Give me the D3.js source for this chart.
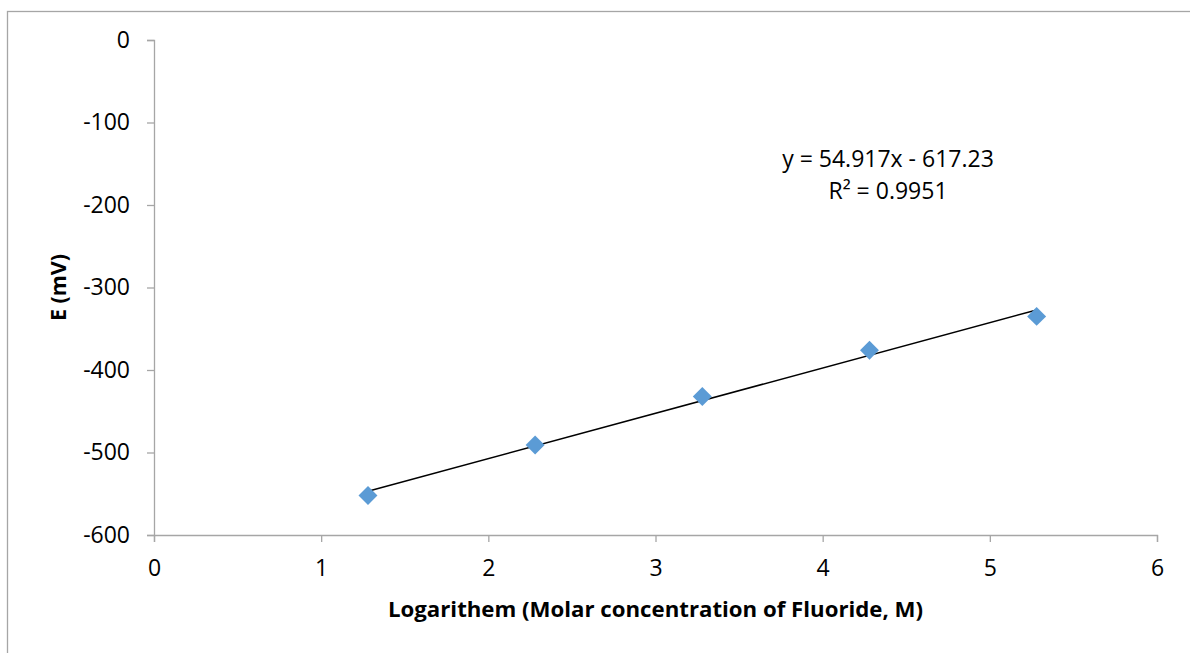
<!DOCTYPE html>
<html>
<head>
<meta charset="utf-8">
<script src="https://cdn.jsdelivr.net/npm/d3@7"></script>
<style>
  body { margin: 0; background: #fff; }
  svg { display: block; font-family: "Open Sans", Lato, sans-serif; }
</style>
</head>
<body>
<script>
(function(){

    //data
    var logConc = [1.28, 2.28, 3.28, 4.28, 5.28];
    var potential = [-552, -491, -432, -376, -335];
    var xTicks = [0, 1, 2, 3, 4, 5, 6];
    var yTicks = [0, -100, -200, -300, -400, -500, -600];
    //trendline from the label
    var slope = [54.917];
    var intercept = [-617.23];
    var eqLines = ["y = 54.917x - 617.23", "R² = 0.9951"];

    var width = 1190, height = 653;
    var margin = {left: 154, right: 33, top: 40, bottom: 118};
    var fontSize = "23px";

    var svg = d3.select("body").append("svg")
        .attr("width", width)
        .attr("height", height);

    //chart area border
    svg.append("rect")
        .attr("x", 7.5).attr("y", 11.5)
        .attr("width", width).attr("height", height)
        .attr("fill", "none")
        .attr("stroke", "#a6a6a6")
        .attr("stroke-width", 1.3);

    var x = d3.scaleLinear().domain([0, 6]).range([margin.left, width - margin.right]);
    var y = d3.scaleLinear().domain([-600, 0]).range([height - margin.bottom, margin.top]);

    //plain hyphen like excel
    var fmt = function(d){ return String(d); };

    //axes
    var xAxis = svg.append("g")
        .attr("transform", "translate(0," + y(-600) + ")")
        .call(d3.axisBottom(x).tickValues(xTicks).tickSize(7).tickPadding(18).tickSizeOuter(7).tickFormat(fmt));
    var yAxis = svg.append("g")
        .attr("transform", "translate(" + x(0) + ",0)")
        .call(d3.axisLeft(y).tickValues(yTicks).tickSize(7).tickPadding(17).tickSizeOuter(7).tickFormat(fmt));

    [xAxis, yAxis].forEach(function(ax){
        ax.selectAll("path, line").attr("stroke", "#a6a6a6").attr("stroke-width", 1.3);
        ax.selectAll("text").attr("fill", "#000").style("font-size", fontSize)
            .style("font-family", "'Open Sans', Lato, sans-serif");
    });

    //trendline
    var xr = d3.extent(logConc);
    svg.append("line")
        .attr("x1", x(xr[0])).attr("y1", y(slope[0] * xr[0] + intercept[0]))
        .attr("x2", x(xr[1])).attr("y2", y(slope[0] * xr[1] + intercept[0]))
        .attr("stroke", "#000")
        .attr("stroke-width", 1.5);

    //diamond markers
    var diamond = d3.symbol().type(d3.symbolSquare).size(180);
    svg.selectAll(".pt")
        .data(logConc)
        .enter()
        .append("path")
        .attr("class", "pt")
        .attr("d", diamond)
        .attr("transform", function(d, i){
            return "translate(" + x(d) + "," + y(potential[i]) + ") rotate(45)";
        })
        .attr("fill", "#5b9bd5");

    //equation label
    svg.selectAll(".eq")
        .data(eqLines)
        .enter()
        .append("text")
        .attr("class", "eq")
        .attr("x", 888)
        .attr("y", function(d, i){ return 167 + i * 32; })
        .attr("text-anchor", "middle")
        .style("font-size", fontSize)
        .text(function(d){ return d; });

    //axis titles
    svg.append("text")
        .attr("x", (x(0) + x(6)) / 2)
        .attr("y", 617)
        .attr("text-anchor", "middle")
        .attr("textLength", 535)
        .attr("lengthAdjust", "spacingAndGlyphs")
        .style("font-size", "22px")
        .style("font-weight", "bold")
        .text("Logarithem (Molar concentration of Fluoride, M)");

    svg.append("text")
        .attr("transform", "translate(66," + y(-300) + ") rotate(-90)")
        .attr("text-anchor", "middle")
        .attr("textLength", 67)
        .attr("lengthAdjust", "spacingAndGlyphs")
        .style("font-size", "22px")
        .style("font-weight", "bold")
        .text("E (mV)");

})();
</script>
</body>
</html>
